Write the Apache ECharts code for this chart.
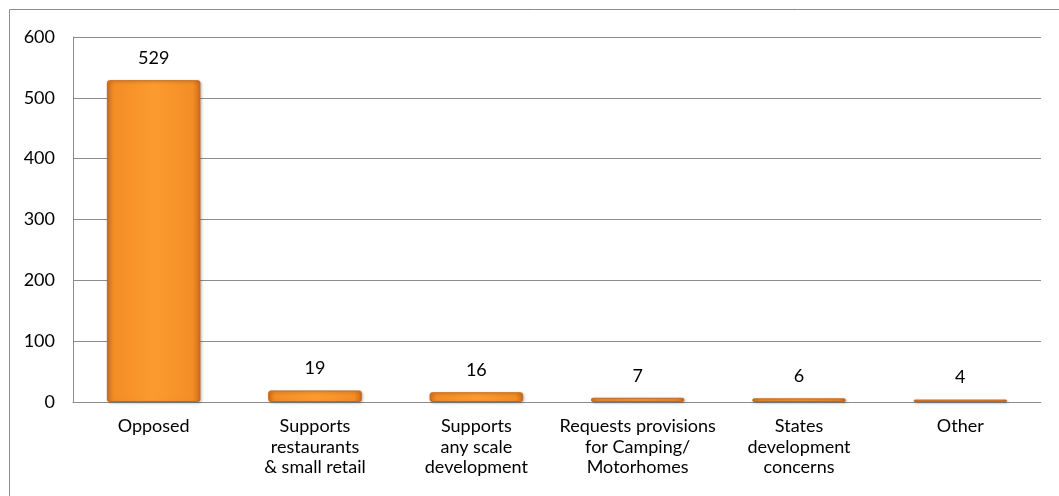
<!DOCTYPE html>
<html>
<head>
<meta charset="utf-8">
<script src="https://cdn.jsdelivr.net/npm/echarts@6/dist/echarts.min.js"></script>
<style>
  html, body { margin: 0; padding: 0; background: #fff; }
  #chart_box { width: 1059px; height: 496px; }
</style>
</head>
<body>
<div id="chart_box"></div>
<script>
// categories and values
var categories = [
  "Opposed",
  "Supports\nrestaurants\n& small retail",
  "Supports\nany scale\ndevelopment",
  "Requests provisions\nfor Camping/\nMotorhomes",
  "States\ndevelopment\nconcerns",
  "Other"
];
var counts = [529, 19, 16, 7, 6, 4];
var yTicks = [0, 100, 200, 300, 400, 500, 600];

var font = "Lato, Liberation Sans, sans-serif";
var mycharts = echarts.init(document.getElementById("chart_box"));

// orange bar with darker edges, like the office bevel look
var barFill = new echarts.graphic.LinearGradient(0, 0, 1, 0, [
  { offset: 0, color: "#d9741c" },
  { offset: 0.08, color: "#f38d25" },
  { offset: 0.5, color: "#fb9b2f" },
  { offset: 0.92, color: "#f38d25" },
  { offset: 1, color: "#cf6c18" }
]);

var option = {
  animation: false,
  // outer chart frame
  graphic: [{
    type: "rect",
    shape: { x: 9.5, y: 9.5, width: 1200, height: 700 },
    style: { fill: "none", stroke: "#8c8c8c", lineWidth: 1 },
    silent: true
  }],
  grid: { left: 73, right: 18, top: 37, bottom: 94 },
  xAxis: {
    type: "category",
    data: categories,
    axisTick: { show: false },
    axisLine: { lineStyle: { color: "#8c8c8c", width: 1 } },
    axisLabel: {
      interval: 0,
      margin: 14,
      color: "#000",
      fontFamily: font,
      fontSize: 18,
      lineHeight: 20.5
    }
  },
  yAxis: {
    type: "value",
    min: yTicks[0],
    max: yTicks[yTicks.length - 1],
    interval: 100,
    axisLine: { show: true, lineStyle: { color: "#8c8c8c", width: 1 } },
    axisTick: { show: false },
    splitLine: { lineStyle: { color: "#8c8c8c", width: 1 } },
    axisLabel: {
      margin: 18,
      color: "#000",
      fontFamily: font,
      fontSize: 18
    }
  },
  series: [{
    type: "bar",
    data: counts,
    barWidth: "58%",
    itemStyle: {
      color: barFill,
      borderColor: "#c8671a",
      borderWidth: 1,
      borderRadius: 2,
      shadowColor: "rgba(0,0,0,0.25)",
      shadowBlur: 3,
      shadowOffsetX: 1,
      shadowOffsetY: 1
    },
    label: {
      show: true,
      position: "top",
      distance: 13,
      color: "#000",
      fontFamily: font,
      fontSize: 18
    }
  }]
};

mycharts.setOption(option);
</script>
</body>
</html>
